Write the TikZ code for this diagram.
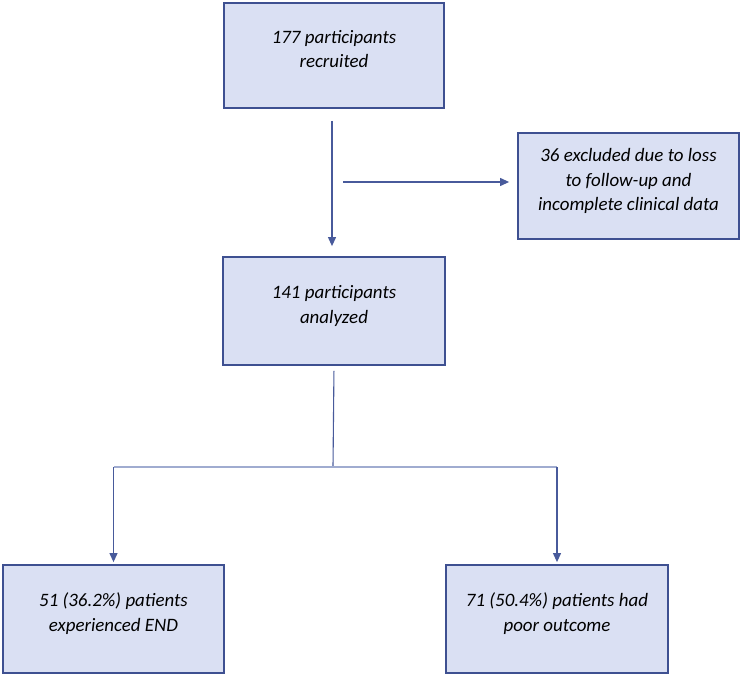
\documentclass[tikz,border=0pt]{standalone}
\usepackage{fontspec}
\setmainfont{Carlito}
\usetikzlibrary{arrows.meta,calc}
\definecolor{boxfill}{RGB}{218,224,243}
\definecolor{boxline}{RGB}{62,80,145}
\definecolor{flowline}{RGB}{72,90,155}
\definecolor{splitline}{RGB}{160,172,208}

\begin{document}
\begin{tikzpicture}[x=1bp,y=-1bp,
        flowbox/.style={draw=boxline,line width=1.8bp,fill=boxfill,align=center,
            font=\fontsize{19}{25}\selectfont\itshape,text depth=13bp,inner sep=0pt},
        flowarrow/.style={draw=flowline,line width=1.1bp,-{Triangle[length=9bp,width=8bp]}}]
        \useasboundingbox (0,0) rectangle (742,676);

        \node[flowbox,minimum width=220bp,minimum height=105bp] (recruited) at (334,55.5) {177 participants\\recruited};
        \node[flowbox,minimum width=222bp,minimum height=108bp] (analyzed) at (334,311) {141 participants\\analyzed};
        \node[flowbox,minimum width=221bp,minimum height=106bp] (excluded) at (628.5,186) {36 excluded due to loss\\to follow-up and\\incomplete clinical data};
        \node[flowbox,minimum width=221bp,minimum height=108bp] (end) at (113.5,619) {51 (36.2\%) patients\\experienced END};
        \node[flowbox,minimum width=222bp,minimum height=108bp] (outcome) at (557,619) {71 (50.4\%) patients had\\poor outcome};

        \coordinate (side) at (343,182);
        \coordinate (fork) at (333,467);

        \draw[flowarrow,shorten <=12bp,shorten >=10bp] ([xshift=-2bp]recruited.south) -- ([xshift=-2bp]analyzed.north);
        \draw[flowarrow,shorten >=8bp] (side) -- (side -| excluded.west);

        \draw[flowline,line width=1.1bp,shorten <=5bp] (analyzed.south) -- (fork);
        \draw[splitline,line width=1.6bp] (fork -| end.north) -- (fork -| outcome.north);
        \draw[flowarrow,shorten >=2bp] (fork -| end.north) -- (end.north);
        \draw[flowarrow,shorten >=2bp] (fork -| outcome.north) -- (outcome.north);
    \end{tikzpicture}
\end{document}
